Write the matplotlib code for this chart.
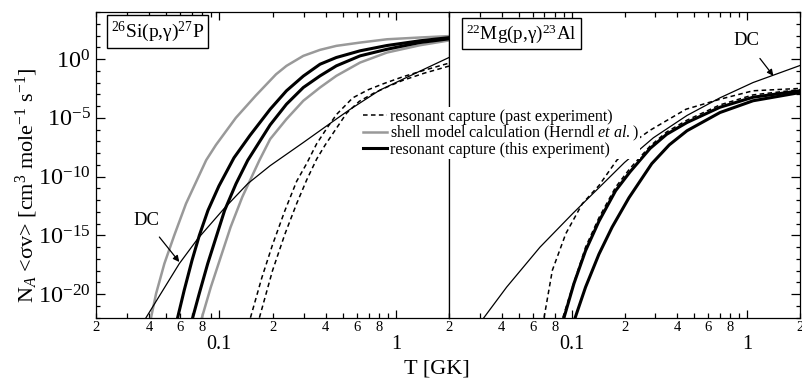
import numpy as np
import matplotlib
matplotlib.use('Agg')
import matplotlib.pyplot as plt
from matplotlib.lines import Line2D

plt.rcParams['font.family'] = ['Liberation Serif', 'DejaVu Serif']
plt.rcParams['mathtext.fontset'] = 'custom'
plt.rcParams['mathtext.rm'] = 'Liberation Serif'
plt.rcParams['mathtext.it'] = 'Liberation Serif:italic'
plt.rcParams['mathtext.bf'] = 'Liberation Serif:bold'

# rates are stored as log10(N_A <sv>), temperatures in GK

# 26Si(p,g)27P panel
si_T_gray1 = [0.0410, 0.0438, 0.0488, 0.0555, 0.0647, 0.0842, 0.0957, 0.124, 0.161, 0.2094, 0.24, 0.299, 0.372, 0.46, 0.627, 0.89, 1.366, 2.0]
si_gray1 = [-22.0, -19.95, -17.4, -15.0, -12.3, -8.6, -7.3, -5.0, -3.1, -1.3, -0.58, 0.27, 0.78, 1.12, 1.40, 1.68, 1.83, 1.95]

si_T_gray2 = [0.0796, 0.0895, 0.1018, 0.1158, 0.1348, 0.1685, 0.194, 0.24, 0.299, 0.372, 0.46, 0.627, 0.89, 1.366, 2.0]
si_gray2 = [-22.0, -19.39, -16.84, -14.29, -11.74, -8.62, -6.81, -5.11, -3.55, -2.42, -1.43, -0.30, 0.55, 1.17, 1.58]

si_T_black1 = [0.0580, 0.0632, 0.0700, 0.0770, 0.0862, 0.0994, 0.121, 0.149, 0.194, 0.24, 0.299, 0.372, 0.46, 0.627, 0.89, 1.366, 2.0]
si_black1 = [-22.0, -19.67, -17.12, -15.0, -12.87, -10.8, -8.4, -6.5, -4.27, -2.70, -1.45, -0.44, 0.13, 0.70, 1.15, 1.55, 1.82]

si_T_black2 = [0.0706, 0.0769, 0.0859, 0.0959, 0.1071, 0.1243, 0.1447, 0.194, 0.24, 0.299, 0.372, 0.46, 0.627, 0.89, 1.366, 2.0]
si_black2 = [-22.0, -19.95, -17.4, -15.14, -12.87, -10.6, -8.62, -5.6, -3.84, -2.42, -1.43, -0.58, 0.27, 0.83, 1.40, 1.72]

si_T_dash1 = [0.150, 0.174, 0.200, 0.235, 0.274, 0.312, 0.356, 0.41, 0.462, 0.57, 0.70, 0.85, 1.1, 1.45, 2.0]
si_dash1 = [-22.0, -18.6, -15.8, -12.9, -10.4, -8.9, -7.2, -5.8, -4.7, -3.3, -2.6, -2.1, -1.5, -0.95, -0.35]

si_T_dash2 = [0.1686, 0.200, 0.235, 0.274, 0.312, 0.356, 0.398, 0.46, 0.526, 0.62, 0.75, 0.9, 1.1, 1.45, 2.0]
si_dash2 = [-22.0, -18.0, -14.9, -12.3, -10.3, -8.5, -7.3, -5.9, -4.6, -3.6, -2.9, -2.35, -1.8, -1.2, -0.6]

si_T_dc = [0.0384, 0.0593, 0.0753, 0.1066, 0.1448, 0.194, 0.299, 0.46, 0.548, 0.81, 1.36, 2.0]
si_dc = [-22.0, -17.4, -15.3, -12.7, -10.6, -9.07, -7.1, -5.1, -4.3, -2.65, -1.05, 0.13]

# 22Mg(p,g)23Al panel
mg_T_dc = [0.0316, 0.0426, 0.066, 0.102, 0.151, 0.2, 0.292, 0.454, 0.70, 1.08, 2.0]
mg_dc = [-22.0, -19.4, -16.0, -13.1, -10.6, -8.8, -6.7, -4.8, -3.3, -2.0, -0.55]

mg_T_dash1 = [0.0696, 0.0776, 0.0926, 0.115, 0.1432, 0.1805, 0.245, 0.279, 0.448, 0.70, 1.08, 2.0]
mg_dash1 = [-22.0, -17.97, -14.85, -12.3, -10.75, -8.62, -6.67, -6.07, -4.27, -3.42, -2.70, -2.5]

mg_T_dash2 = [0.089, 0.100, 0.120, 0.143, 0.178, 0.215, 0.28, 0.348, 0.454, 0.70, 1.08, 2.0]
mg_dash2 = [-22.0, -19.6, -16.0, -13.5, -10.9, -9.3, -7.4, -6.2, -5.2, -3.9, -3.05, -2.6]

mg_T_black1 = [0.0904, 0.103, 0.120, 0.143, 0.178, 0.215, 0.28, 0.348, 0.454, 0.70, 1.08, 2.0]
mg_black1 = [-22.0, -19.1, -16.3, -13.8, -11.2, -9.6, -7.6, -6.4, -5.4, -4.1, -3.25, -2.7]

mg_T_black2 = [0.1047, 0.120, 0.143, 0.170, 0.212, 0.286, 0.36, 0.454, 0.70, 1.08, 2.0]
mg_black2 = [-22.0, -19.4, -16.6, -14.3, -11.8, -8.9, -7.3, -6.1, -4.55, -3.55, -2.85]

x_minor = [0.02, 0.03, 0.04, 0.05, 0.06, 0.07, 0.08, 0.09, 0.2, 0.3, 0.4, 0.5, 0.6, 0.7, 0.8, 0.9, 2.0]
x_minor_labels = ['2', '', '4', '', '6', '', '8', '', '2', '', '4', '', '6', '', '8', '', '2']
x_major = [0.1, 1.0]
x_major_labels = ['0.1', '1']
y_major_exp = [-20, -15, -10, -5, 0]

GRAY = '#999999'
DASH = (0, (3.0, 2.2))


def rate(vals):
    return np.power(10.0, np.array(vals))


def style_axes(ax, ylabels):
    ax.set_xscale('log')
    ax.set_yscale('log')
    ax.set_xlim(0.02, 2.0)
    ax.set_ylim(1e-22, 1e4)
    ax.set_xticks(x_major, x_major_labels)
    ax.set_xticks(x_minor, x_minor_labels, minor=True)
    ax.set_yticks([10.0 ** e for e in y_major_exp])
    ax.set_yticks([10.0 ** e for e in range(-22, 5) if e not in y_major_exp], minor=True)
    ax.set_yticklabels(['$10^{%d}$' % e for e in y_major_exp] if ylabels else [])
    ax.set_yticklabels([], minor=True)
    ax.tick_params(which='both', direction='in', top=True, width=0.9)
    ax.tick_params(axis='x', which='major', length=6, labelsize=14.5, pad=12.5)
    ax.tick_params(axis='x', which='minor', length=3.6, labelsize=10.5, pad=2.5)
    ax.tick_params(axis='y', which='major', length=6.5, labelsize=17.5, pad=4)
    ax.tick_params(axis='y', which='minor', length=3)
    for s in ax.spines.values():
        s.set_linewidth(0.9)


fig = plt.figure(figsize=(8.02, 3.8), dpi=100)
ax1 = fig.add_axes([96 / 802, 1 - 317.7 / 380, 353 / 802, 305.7 / 380])
ax2 = fig.add_axes([449 / 802, 1 - 317.7 / 380, 351 / 802, 305.7 / 380])

# left panel
ax1.plot(si_T_gray1, rate(si_gray1), color=GRAY, lw=1.8)
ax1.plot(si_T_gray2, rate(si_gray2), color=GRAY, lw=1.8)
ax1.plot(si_T_dash1, rate(si_dash1), color='black', lw=1.1, linestyle=DASH)
ax1.plot(si_T_dash2, rate(si_dash2), color='black', lw=1.1, linestyle=DASH)
ax1.plot(si_T_dc, rate(si_dc), color='black', lw=0.9)
ax1.plot(si_T_black1, rate(si_black1), color='black', lw=2.2)
ax1.plot(si_T_black2, rate(si_black2), color='black', lw=2.2)
style_axes(ax1, True)
ax1.tick_params(axis='y', which='both', right=False)
ax1.text((111 - 96) / 353, (317.7 - 19.5) / 305.7, '$^{26}$Si(p,γ)$^{27}$P',
         transform=ax1.transAxes, ha='left', va='top', fontsize=14,
         bbox=dict(boxstyle='square,pad=0.22', fc='white', ec='black', lw=1))
ax1.annotate('DC', xy=(0.0593, 10 ** -17.26), xytext=(0.0384, 10 ** -13.72),
             ha='center', va='center', fontsize=13.5,
             arrowprops=dict(arrowstyle='-|>', color='black', lw=0.9,
                             mutation_scale=9, shrinkA=5, shrinkB=0))

# right panel
ax2.plot(mg_T_dash1, rate(mg_dash1), color='black', lw=1.1, linestyle=DASH)
ax2.plot(mg_T_dash2, rate(mg_dash2), color='black', lw=1.1, linestyle=DASH)
ax2.plot(mg_T_dc, rate(mg_dc), color='black', lw=0.9)
ax2.plot(mg_T_black1, rate(mg_black1), color='black', lw=2.2)
ax2.plot(mg_T_black2, rate(mg_black2), color='black', lw=2.2)
style_axes(ax2, False)
ax2.set_xticklabels([''] + x_minor_labels[1:], minor=True)
ax2.tick_params(axis='y', which='both', left=False, right=True)
ax2.text((466 - 449) / 351, (317.7 - 22) / 305.7, '$^{22}$Mg(p,γ)$^{23}$Al',
         transform=ax2.transAxes, ha='left', va='top', fontsize=13.8,
         bbox=dict(boxstyle='square,pad=0.22', fc='white', ec='black', lw=1))
ax2.annotate('DC', xy=(1.41, 10 ** -1.43), xytext=(0.986, 10 ** 1.57),
             ha='center', va='center', fontsize=13.5,
             arrowprops=dict(arrowstyle='-|>', color='black', lw=0.9,
                             mutation_scale=9, shrinkA=6, shrinkB=0))

handles = [
    Line2D([], [], color='black', lw=1.1, linestyle=DASH),
    Line2D([], [], color=GRAY, lw=1.8),
    Line2D([], [], color='black', lw=2.2),
]
labels = [
    'resonant capture (past experiment)',
    'shell model calculation (Herndl $\\mathit{et\\ al.}$)',
    'resonant capture (this experiment)',
]
leg = fig.legend(handles, labels, loc='center left', bbox_to_anchor=(361 / 802, 1 - 133.3 / 380),
                 fontsize=11.6, frameon=True, fancybox=False, framealpha=1.0,
                 borderpad=0.1, borderaxespad=0, handlelength=1.5, handletextpad=0.2,
                 labelspacing=-0.08)
leg.get_frame().set_edgecolor('none')
leg.get_frame().set_facecolor('white')

fig.text(27 / 802, 1 - 185 / 380, 'N$_A$ <σv> [cm$^3$ mole$^{-1}$ s$^{-1}$]',
         rotation=90, ha='center', va='center', fontsize=16)
fig.text(437 / 802, 1 - 369 / 380, 'T [GK]', ha='center', va='center', fontsize=16)

fig.savefig('out.png', dpi=100)
